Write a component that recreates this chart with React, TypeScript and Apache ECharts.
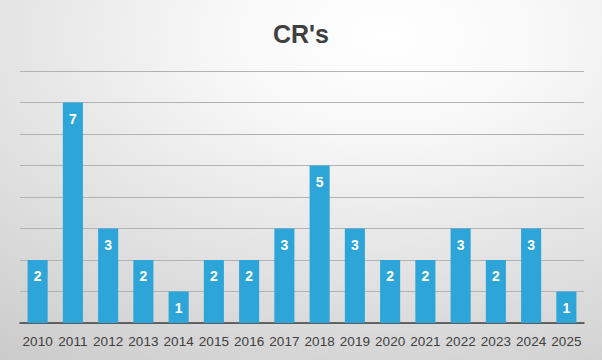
import React, { useEffect, useRef } from "react";
import * as echarts from "echarts";

const years = ["2010","2011","2012","2013","2014","2015","2016","2017","2018","2019","2020","2021","2022","2023","2024","2025"];
const counts = [2, 7, 3, 2, 1, 2, 2, 3, 5, 3, 2, 2, 3, 2, 3, 1];
const titleText = "CR's";

export default function App() {
  const ref = useRef<HTMLDivElement>(null);
  useEffect(() => {
    if (!ref.current) return;
    const chart = echarts.init(ref.current, undefined, { renderer: "svg" });
    chart.setOption({
      animation: false,
      backgroundColor: {
        type: "radial",
        x: 0.64,
        y: 0.1,
        r: 1.3,
        colorStops: [
          { offset: 0, color: "#ffffff" },
          { offset: 0.2, color: "#f8f8f8" },
          { offset: 1, color: "#c0c0c0" },
        ],
      },
      title: {
        text: titleText,
        left: "center",
        top: 16,
        textStyle: {
          fontFamily: "Liberation Sans, Arial, sans-serif",
          fontSize: 25,
          fontWeight: "bold",
          color: "#404040",
        },
      },
      grid: { left: 20, right: 18, top: 71, bottom: 37, containLabel: false },
      xAxis: {
        type: "category",
        data: years,
        axisLine: { lineStyle: { color: "#404040", width: 1.5 } },
        axisTick: { show: false },
        axisLabel: {
          margin: 11,
          fontFamily: "Liberation Sans, Arial, sans-serif",
          fontSize: 13.5,
          color: "#404040",
          interval: 0,
        },
      },
      yAxis: {
        type: "value",
        min: 0,
        max: 8,
        interval: 1,
        axisLabel: { show: false },
        axisLine: { show: false },
        axisTick: { show: false },
        splitLine: { lineStyle: { color: "#b2b2b2", width: 1 } },
      },
      series: [
        {
          type: "bar",
          data: counts,
          barWidth: "57%",
          itemStyle: { color: "#2ea5d9" },
          label: {
            show: true,
            position: "insideTop",
            distance: 9,
            color: "#ffffff",
            fontWeight: "bold",
            fontSize: 14,
            fontFamily: "Liberation Sans, Arial, sans-serif",
          },
        },
      ],
    });
    return () => chart.dispose();
  }, []);
  return (
    <div
      ref={ref}
      style={{ position: "absolute", left: 0, top: 0, width: 602, height: 360 }}
    />
  );
}
